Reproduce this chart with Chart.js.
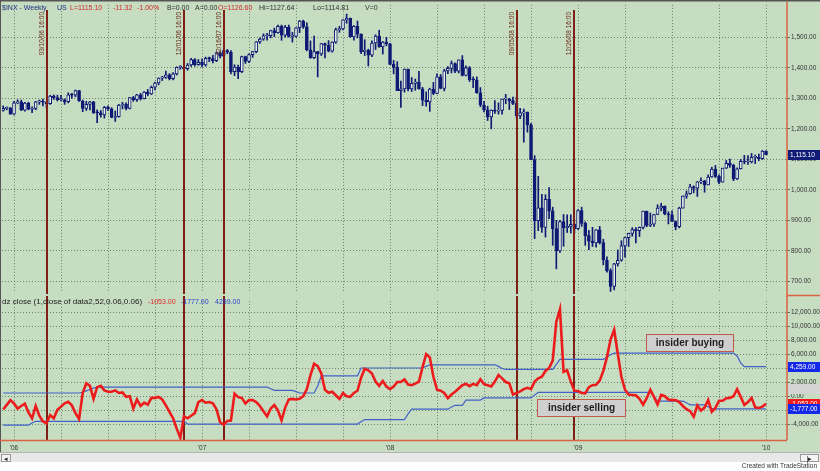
<!DOCTYPE html>
<html>
<head>
<meta charset="utf-8">
<script src="https://cdn.jsdelivr.net/npm/chart.js@4.4.1/dist/chart.umd.min.js"></script>
<style>
  body { margin: 0; width: 820px; height: 471px; overflow: hidden; background: #fff; font-family: Arial, "Liberation Sans", sans-serif; }
  #bg { position: absolute; left: 0; top: 0; width: 820px; height: 452px; background: #c6ddc2; }
  #top { position: absolute; left: 0; top: 0; }
  #bot { position: absolute; left: 0; top: 296px; }
  #scroll { position: absolute; left: 0; top: 452px; width: 820px; height: 10px; background: #e8e8e8; border-top: 1px solid #b4b4b4; box-sizing: border-box; }
  .btn { position: absolute; top: 1px; height: 8px; border: 1px solid #999; background: #f4f4f4; font-size: 7px; line-height: 8px; text-align: center; color: #222; box-sizing: border-box; }
  #credit { position: absolute; right: 3px; top: 462px; font-size: 6.5px; color: #333; }
</style>
</head>
<body>
<div id="bg"></div>
<canvas id="top" width="820" height="297"></canvas>
<canvas id="bot" width="820" height="160"></canvas>
<div id="scroll">
  <div class="btn" style="left:1px;width:10px;">&#9666;</div>
  <div class="btn" style="left:800px;width:19px;">|&#9656;</div>
</div>
<div id="credit">Created with TradeStation</div>

<script>
// weekly bars, 16 Dec 2005 .. 31 Dec 2009
const opens = [
  1260,1267,1268,1248,1285,1288,1261,1284,1264,1267,
  1288,1289,1287,1282,1307,1302,1295,1295,1289,1311,
  1310,1325,1291,1267,1280,1288,1253,1252,1245,1270,
  1265,1237,1240,1278,1280,1267,1302,1295,1311,1299,
  1320,1314,1336,1350,1366,1368,1377,1364,1380,1401,
  1401,1397,1409,1427,1410,1418,1409,1431,1430,1423,
  1449,1438,1456,1451,1387,1402,1387,1437,1421,1443,
  1453,1485,1494,1505,1505,1522,1515,1536,1507,1533,
  1503,1503,1531,1553,1534,1459,1433,1453,1445,1479,
  1474,1454,1484,1525,1527,1557,1562,1501,1536,1510,
  1453,1458,1441,1481,1504,1468,1484,1478,1411,1401,
  1325,1331,1396,1331,1349,1353,1331,1294,1288,1330,
  1316,1370,1332,1390,1398,1414,1389,1426,1375,1400,
  1361,1360,1318,1278,1262,1239,1261,1258,1260,1297,
  1298,1292,1283,1242,1252,1255,1213,1099,899,941,
  877,969,931,873,800,896,876,880,887,873,
  932,890,850,832,826,869,827,770,735,683,
  757,769,816,843,857,870,866,877,930,883,
  887,919,940,947,921,918,896,879,940,979,
  987,1010,1005,1026,1029,1016,1042,1068,1044,1025,
  1071,1087,1080,1036,1069,1093,1091,1091,1106,1106,
  1102,1126.60
];
const highs = [
  1275,1272,1270,1290,1295,1294,1287,1287,1272,1290,
  1294,1297,1289,1310,1311,1310,1310,1298,1318,1316,
  1327,1326,1294,1290,1290,1290,1262,1260,1273,1275,
  1269,1258,1280,1287,1285,1303,1306,1313,1316,1322,
  1329,1340,1353,1367,1372,1389,1381,1384,1403,1407,
  1402,1414,1431,1430,1427,1429,1435,1435,1441,1452,
  1453,1461,1460,1456,1410,1409,1438,1438,1446,1454,
  1486,1498,1511,1513,1523,1530,1540,1540,1539,1540,
  1516,1532,1555,1556,1547,1488,1504,1454,1480,1481,
  1489,1485,1530,1536,1558,1576,1563,1538,1553,1511,
  1492,1461,1488,1508,1523,1486,1500,1480,1424,1420,
  1356,1396,1396,1368,1363,1388,1336,1321,1333,1352,
  1380,1378,1395,1404,1422,1416,1426,1440,1406,1404,
  1370,1370,1335,1290,1274,1262,1292,1285,1297,1313,
  1300,1304,1304,1267,1265,1255,1218,1112,1044,985,
  984,1007,943,900,900,919,918,918,890,935,
  943,895,867,877,870,880,838,780,741,759,
  803,833,845,858,876,876,878,930,930,924,
  920,951,956,947,928,931,898,943,980,996,
  1018,1013,1027,1039,1031,1049,1074,1080,1049,1071,
  1096,1101,1084,1072,1100,1113,1112,1119,1114,1117,
  1129,1127.64
];
const lows = [
  1258,1262,1248,1245,1282,1260,1258,1262,1253,1262,
  1280,1275,1268,1280,1296,1291,1291,1280,1285,1300,
  1305,1290,1256,1260,1262,1250,1220,1238,1235,1260,
  1236,1224,1238,1265,1262,1265,1290,1290,1294,1298,
  1308,1312,1327,1344,1358,1365,1360,1360,1376,1395,
  1380,1392,1404,1405,1408,1403,1405,1420,1416,1420,
  1432,1435,1446,1380,1374,1364,1384,1414,1417,1434,
  1449,1480,1490,1490,1498,1502,1513,1490,1500,1500,
  1484,1500,1515,1529,1455,1431,1430,1370,1440,1432,
  1452,1451,1480,1516,1524,1546,1500,1490,1498,1446,
  1440,1406,1436,1460,1467,1445,1472,1410,1380,1325,
  1270,1320,1324,1322,1326,1330,1276,1274,1257,1312,
  1315,1331,1324,1381,1383,1384,1383,1373,1373,1355,
  1335,1316,1272,1255,1227,1200,1250,1248,1248,1282,
  1263,1279,1236,1233,1156,1189,1099,840,866,860,
  845,905,818,741,795,815,860,858,857,870,
  880,818,804,814,812,822,754,730,667,672,
  750,766,779,814,848,826,847,872,879,879,
  880,919,931,918,888,896,869,875,940,972,
  986,990,978,1020,992,1016,1041,1040,1020,1025,
  1070,1073,1030,1033,1068,1085,1083,1088,1086,1095,
  1100,1114.81
];
const closes = [
  1267,1268,1248,1285,1288,1261,1284,1264,1267,1288,
  1289,1287,1282,1307,1302,1295,1295,1289,1311,1310,
  1325,1291,1267,1280,1288,1253,1252,1245,1270,1265,
  1237,1240,1278,1280,1267,1302,1295,1311,1299,1320,
  1314,1336,1350,1366,1368,1377,1364,1380,1401,1401,
  1397,1409,1427,1410,1418,1409,1431,1430,1423,1449,
  1438,1456,1451,1387,1402,1387,1437,1421,1443,1453,
  1485,1494,1505,1505,1522,1515,1536,1507,1533,1503,
  1503,1531,1553,1534,1459,1433,1453,1445,1479,1474,
  1454,1484,1525,1527,1557,1562,1501,1536,1510,1453,
  1458,1441,1481,1504,1468,1484,1478,1411,1401,1325,
  1331,1396,1331,1349,1353,1331,1294,1288,1330,1316,
  1370,1332,1390,1398,1414,1389,1426,1375,1400,1361,
  1360,1318,1278,1262,1239,1261,1258,1260,1297,1298,
  1292,1283,1242,1252,1255,1213,1099,899,941,877,
  969,931,873,800,896,876,880,887,873,932,
  890,850,832,826,869,827,770,735,683,757,
  769,816,843,857,870,866,877,930,883,887,
  919,940,947,921,918,896,879,940,979,987,
  1010,1005,1026,1029,1016,1042,1068,1044,1025,1071,
  1087,1080,1036,1069,1093,1091,1091,1106,1106,1102,
  1127,1115.10
];

// dz close oscillator and its two bands
const dzClose = [
  -1870,-1200,-520,-1000,-1730,-1360,-1030,-2280,-3120,-1360,
  -2750,-3580,-3820,-2660,-3120,-1910,-1450,-990,-760,-1270,
  -2380,-3210,500,1890,1520,-340,1330,1520,870,680,
  680,870,500,590,-60,35,-1730,-430,-1360,-890,
  -1170,-200,-200,-60,-430,-1270,-2190,-3120,-4600,-5900,
  -2840,-3120,-2750,-2380,-800,-520,-890,-800,-990,-1820,
  -3680,-4050,-3490,-3440,400,-100,-200,-990,-520,-520,
  -800,-1360,-2100,-2840,-1730,-1220,-2000,-3400,-1590,-430,
  -340,-430,-340,35,1050,3050,4680,4350,3280,960,
  540,680,170,-340,500,35,-60,500,820,2680,
  3980,3750,3280,2120,1520,2210,1430,1050,1430,2070,
  2070,2450,1700,1610,1840,2120,4210,6070,5600,2820,
  960,820,500,-250,270,680,1150,1610,1800,1470,
  1800,1610,2450,1750,1610,1430,2120,3050,2590,2070,
  1890,270,500,730,1050,1240,1050,2120,2590,2820,
  3650,4070,5140,10700,12500,3520,3750,2120,820,780,
  500,450,1330,1610,1660,2260,3650,5600,8150,9550,
  6070,2820,960,270,220,170,-340,-1170,-250,960,
  -60,-1130,220,35,-430,-520,-520,-800,-1360,-1820,
  -2100,-2890,-1270,-2010,-1590,-520,-2190,-1640,-610,-610,
  -250,-200,35,1050,-60,-1220,-800,-200,-1540,-1640,
  -1450,-1053
];
const upperBand = [
  500,500,500,500,500,500,500,500,500,500,
  500,500,500,500,500,500,500,500,500,500,
  500,500,600,800,1000,1200,1330,1330,1330,1330,
  1330,1330,1330,1330,1330,1330,1330,1330,1330,1330,
  1330,1330,1330,1330,1330,1330,1330,1330,1330,1330,
  1330,1330,1330,1330,1330,1330,1330,1330,1330,1330,
  1330,1330,1330,1330,1330,1330,1330,1330,1330,1330,
  1330,1330,1330,1330,1100,870,870,870,870,870,
  870,700,500,500,500,500,500,1500,2960,2960,
  2960,2960,2960,2960,2960,2960,2960,2960,2960,4070,
  4070,4070,4070,4070,4070,4070,4070,4070,4070,4070,
  4070,4070,4070,4070,4070,4070,4070,4300,4530,4530,
  4530,4530,4530,4530,4530,4530,4530,4530,4530,4530,
  4530,4530,4530,4530,4530,4530,4530,4300,4000,3890,
  3890,3890,3890,3890,3890,3890,3890,3890,3890,3890,
  3890,3890,3890,4600,5320,5320,5320,5320,5320,5320,
  5320,5320,5320,5320,5320,5320,5320,5600,6000,6200,
  6200,6200,6200,6200,6200,6200,6200,6200,6200,6200,
  6200,6200,6200,6200,6200,6200,6200,6200,6200,6200,
  6200,6200,6200,6200,6200,6200,6200,6200,6200,6200,
  6200,6200,6200,5800,4800,4259,4259,4259,4259,4259,
  4259,4259
];
const lowerBand = [
  -4100,-4100,-4100,-4100,-4100,-4100,-4100,-4100,-3800,-3550,
  -3550,-3550,-3550,-3550,-3550,-3550,-3550,-3550,-3550,-3550,
  -3550,-3550,-3550,-3550,-3550,-3550,-3550,-3550,-3550,-3550,
  -3550,-3550,-3550,-3550,-3550,-3550,-3550,-3550,-3550,-3550,
  -3550,-3550,-3550,-3550,-3550,-3550,-3550,-3550,-3550,-3550,
  -3550,-3950,-3950,-3950,-3950,-3950,-3950,-3950,-3950,-3950,
  -3950,-3950,-3950,-3950,-3950,-3950,-3950,-3950,-3950,-3950,
  -3950,-3950,-3950,-3950,-3950,-3950,-3950,-3950,-3950,-3950,
  -3950,-3950,-3950,-3950,-3950,-3950,-3950,-3950,-3950,-3950,
  -3950,-3950,-3950,-3950,-3950,-3950,-3950,-3950,-3950,-3600,
  -3300,-3300,-3300,-3300,-3300,-3300,-3300,-3300,-3300,-3300,
  -3300,-3300,-2500,-1820,-1820,-1820,-1820,-1820,-1820,-1820,
  -1820,-1820,-1820,-1820,-1500,-1260,-1260,-1260,-520,-520,
  -520,-520,-520,-200,-200,-200,-200,-200,-200,-200,
  -200,-200,-200,-200,-200,-200,-200,200,600,600,
  600,600,600,600,600,600,600,600,600,600,
  600,600,600,600,600,600,600,600,600,600,
  600,600,600,600,600,600,600,600,600,600,
  0,-660,-660,-660,-660,-660,-660,-660,-660,-900,
  -1200,-1200,-1200,-1200,-1200,-1500,-1700,-1777,-1777,-1777,
  -1777,-1777,-1777,-1777,-1777,-1777,-1777,-1777,-1777,-1777,
  -1777,-1777
];

// time axis: bar index of each quarter, year labels, marked weeks
const quarterIdx = [3,16,29,42,55,68,81,94,107,120,133,146,159,172,185,198,211];
const yearIdx = [3,55,107,159,211];
const yearLabels = ["'06","'07","'08","'09","'10"];
const eventIdx = [12,50,61,142,158];
const eventLabels = ["03/10/06 16:00","12/01/06 16:00","02/16/07 16:00","09/05/08 16:00","12/26/08 16:00"];

const priceTicks = [700,800,900,1000,1100,1200,1300,1400,1500];
const dzTicks = [-4000,-2000,0,2000,4000,6000,8000,10000,12000];

const notes = [
  { text: 'insider buying', x0: 177.8, x1: 201.9, y0: 8960, y1: 6570 },
  { text: 'insider selling', x0: 147.7, x1: 172.0, y0: -380, y1: -2750 }
];

const FONT = 'Arial, "Liberation Sans", sans-serif';
Chart.defaults.font.family = FONT;
const navy = '#0e1a74';
const gridCol = 'rgba(80,100,80,0.75)';
const xMin = -0.32, xMax = 216.8;

function money(v) {
  return v.toLocaleString('en-US', { minimumFractionDigits: 2, maximumFractionDigits: 2 });
}

function drawEvents(chart, y0, y1) {
  const ctx = chart.ctx, xs = chart.scales.x;
  ctx.save();
  ctx.strokeStyle = '#7f1e14';
  ctx.lineWidth = 2;
  eventIdx.forEach(i => {
    const x = Math.round(xs.getPixelForValue(i));
    ctx.beginPath();
    ctx.moveTo(x, y0);
    ctx.lineTo(x, y1);
    ctx.stroke();
  });
  ctx.restore();
}

function tag(ctx, yc, bg, fg, text) {
  ctx.fillStyle = bg;
  ctx.fillRect(788, Math.round(yc) - 5, 32, 10);
  if (text) {
    ctx.fillStyle = fg;
    ctx.font = '6.5px ' + FONT;
    ctx.textBaseline = 'middle';
    ctx.fillText(text, 790, Math.round(yc) + 0.5);
  }
}

// parts: [x, text, colour, optional size]
function writeParts(ctx, parts, y, size) {
  ctx.textBaseline = 'alphabetic';
  parts.forEach(p => {
    ctx.font = (p[3] || size) + 'px ' + FONT;
    ctx.fillStyle = p[2];
    ctx.fillText(p[1], p[0], y);
  });
}

const topDecor = {
  id: 'topDecor',
  afterDatasetsDraw(chart) {
    const ctx = chart.ctx, xs = chart.scales.x, area = chart.chartArea;
    drawEvents(chart, 10, area.bottom + 2);
    ctx.save();
    ctx.fillStyle = '#6a2816';
    ctx.font = '6.5px ' + FONT;
    ctx.textAlign = 'right';
    ctx.textBaseline = 'bottom';
    eventIdx.forEach((i, k) => {
      const x = Math.round(xs.getPixelForValue(i));
      ctx.save();
      ctx.translate(x - 2, 12);
      ctx.rotate(-Math.PI / 2);
      ctx.fillText(eventLabels[k], 0, 0);
      ctx.restore();
    });
    ctx.restore();
  },
  afterDraw(chart) {
    const ctx = chart.ctx, ys = chart.scales.y, area = chart.chartArea;
    const last = closes.length - 1;
    ctx.save();
    ctx.fillStyle = '#555';
    ctx.fillRect(0, 0, 820, 1.5);
    ctx.fillRect(0, 0, 1, 297);
    ctx.strokeStyle = '#db6242';
    ctx.lineWidth = 1.5;
    ctx.beginPath();
    ctx.moveTo(area.right, 1.5); ctx.lineTo(area.right, 297);
    ctx.moveTo(area.right, 295.5); ctx.lineTo(820, 295.5);
    ctx.stroke();
    writeParts(ctx, [
      [2, '$INX - Weekly', '#1c2c80'],
      [57, 'US', '#1c2c80'],
      [70, 'L=' + closes[last].toFixed(2), '#d42a2a'],
      [113, '-11.32', '#d42a2a'],
      [137, '-1.00%', '#d42a2a'],
      [167, 'B=0.00', '#333'],
      [195, 'A=0.00', '#333'],
      [218, 'O=' + opens[last].toFixed(2), '#d42a2a'],
      [259, 'Hi=' + highs[last].toFixed(2), '#333'],
      [313, 'Lo=' + lows[last].toFixed(2), '#333'],
      [365, 'V=0', '#333']
    ], 10, 7);
    tag(ctx, ys.getPixelForValue(closes[last]), '#101c78', '#fff', money(closes[last]));
    ctx.restore();
  }
};

const botDecor = {
  id: 'botDecor',
  beforeDatasetsDraw(chart) {
    drawEvents(chart, 0, chart.chartArea.bottom);
  },
  afterDatasetsDraw(chart) {
    const ctx = chart.ctx, xs = chart.scales.x, ys = chart.scales.y;
    ctx.save();
    notes.forEach(n => {
      const x0 = Math.round(xs.getPixelForValue(n.x0)) + 0.5, x1 = Math.round(xs.getPixelForValue(n.x1)) + 0.5;
      const y0 = Math.round(ys.getPixelForValue(n.y0)) + 0.5, y1 = Math.round(ys.getPixelForValue(n.y1)) + 0.5;
      ctx.fillStyle = '#cfcfcf';
      ctx.fillRect(x0, y0, x1 - x0, y1 - y0);
      ctx.strokeStyle = '#c25a48';
      ctx.lineWidth = 1;
      ctx.strokeRect(x0, y0, x1 - x0, y1 - y0);
      ctx.fillStyle = '#1e1e1e';
      ctx.font = 'bold 10px ' + FONT;
      ctx.textAlign = 'center';
      ctx.textBaseline = 'middle';
      ctx.fillText(n.text, (x0 + x1) / 2, (y0 + y1) / 2 + 0.5);
    });
    ctx.restore();
  },
  afterDraw(chart) {
    const ctx = chart.ctx, ys = chart.scales.y, area = chart.chartArea;
    const last = dzClose.length - 1;
    ctx.save();
    ctx.fillStyle = '#555';
    ctx.fillRect(0, 0, 1, 160);
    ctx.strokeStyle = '#db6242';
    ctx.lineWidth = 1.5;
    ctx.beginPath();
    ctx.moveTo(area.right, 0); ctx.lineTo(area.right, area.bottom);
    ctx.moveTo(0, area.bottom + 0.5); ctx.lineTo(area.right, area.bottom + 0.5);
    ctx.stroke();
    writeParts(ctx, [
      [2, 'dz close (1,close of data2,52,0.06,0.06)', '#222', 8],
      [148, dzClose[last].toFixed(2), '#e02828'],
      [181, lowerBand[last].toFixed(2), '#2a44c8'],
      [215, upperBand[last].toFixed(2), '#2a44c8']
    ], 8, 7);
    tag(ctx, ys.getPixelForValue(upperBand[last]), '#1428e8', '#fff', money(upperBand[last]));
    tag(ctx, ys.getPixelForValue(1000), '#d4d4d4', '#d4d4d4', '');
    tag(ctx, ys.getPixelForValue(dzClose[last]), '#f01818', '#fff', money(dzClose[last]));
    tag(ctx, ys.getPixelForValue(lowerBand[last]), '#1428e8', '#fff', money(lowerBand[last]));
    ctx.restore();
  }
};

const bodies = closes.map((c, i) => ({ x: i, y: [opens[i], c] }));
const wicks = closes.map((c, i) => ({ x: i, y: [lows[i], highs[i]] }));
const bodyColors = closes.map((c, i) => c >= opens[i] ? '#e8f0e4' : navy);

function xAxis(showLabels) {
  return {
    type: 'linear', min: xMin, max: xMax, offset: false,
    afterBuildTicks: s => { s.ticks = quarterIdx.map(v => ({ value: v })); },
    afterFit: s => { s.height = showLabels ? 16 : 0; },
    grid: { color: gridCol, offset: false, drawTicks: false },
    border: { display: false, dash: [1, 2] },
    ticks: {
      display: showLabels, autoSkip: false, maxRotation: 0, padding: 4,
      color: '#333', font: { size: 6.5 },
      callback: v => { const k = yearIdx.indexOf(v); return k >= 0 ? yearLabels[k] : ''; }
    }
  };
}

function yAxis(min, max, ticks) {
  return {
    position: 'right', min: min, max: max,
    afterBuildTicks: s => { s.ticks = ticks.map(v => ({ value: v })); },
    afterFit: s => { s.width = 33; },
    grid: { color: gridCol, tickLength: 3, tickColor: '#6a6a6a' },
    border: { display: false, dash: [1, 2] },
    ticks: { padding: 1, color: '#333', font: { size: 6.5 }, callback: v => money(v) }
  };
}

new Chart(document.getElementById('top'), {
  type: 'bar',
  data: {
    datasets: [
      { data: bodies, backgroundColor: bodyColors, borderColor: navy, borderWidth: 1, borderSkipped: false,
        barThickness: 3, minBarLength: 1, grouped: false, order: 0 },
      { data: wicks, backgroundColor: navy, barThickness: 1, grouped: false, order: 1 }
    ]
  },
  options: {
    responsive: false, animation: false,
    layout: { padding: { left: 2, top: 2, right: 0, bottom: 2 } },
    plugins: { legend: { display: false }, tooltip: { enabled: false } },
    scales: { x: xAxis(false), y: yAxis(664.7, 1606, priceTicks) }
  },
  plugins: [topDecor]
});

new Chart(document.getElementById('bot'), {
  type: 'line',
  data: {
    datasets: [
      { data: dzClose.map((v, i) => ({ x: i, y: v })), borderColor: '#ec1c1c', borderWidth: 2.6,
        pointRadius: 0, tension: 0, order: 0 },
      { data: upperBand.map((v, i) => ({ x: i, y: v })), borderColor: '#4262c8', borderWidth: 1.2,
        pointRadius: 0, order: 1 },
      { data: lowerBand.map((v, i) => ({ x: i, y: v })), borderColor: '#4262c8', borderWidth: 1.2,
        pointRadius: 0, order: 2 }
    ]
  },
  options: {
    responsive: false, animation: false,
    layout: { padding: { left: 2, top: 1, right: 0, bottom: 0 } },
    plugins: { legend: { display: false }, tooltip: { enabled: false } },
    scales: { x: xAxis(true), y: yAxis(-6226, 13670, dzTicks) }
  },
  plugins: [botDecor]
});
</script>
</body>
</html>
